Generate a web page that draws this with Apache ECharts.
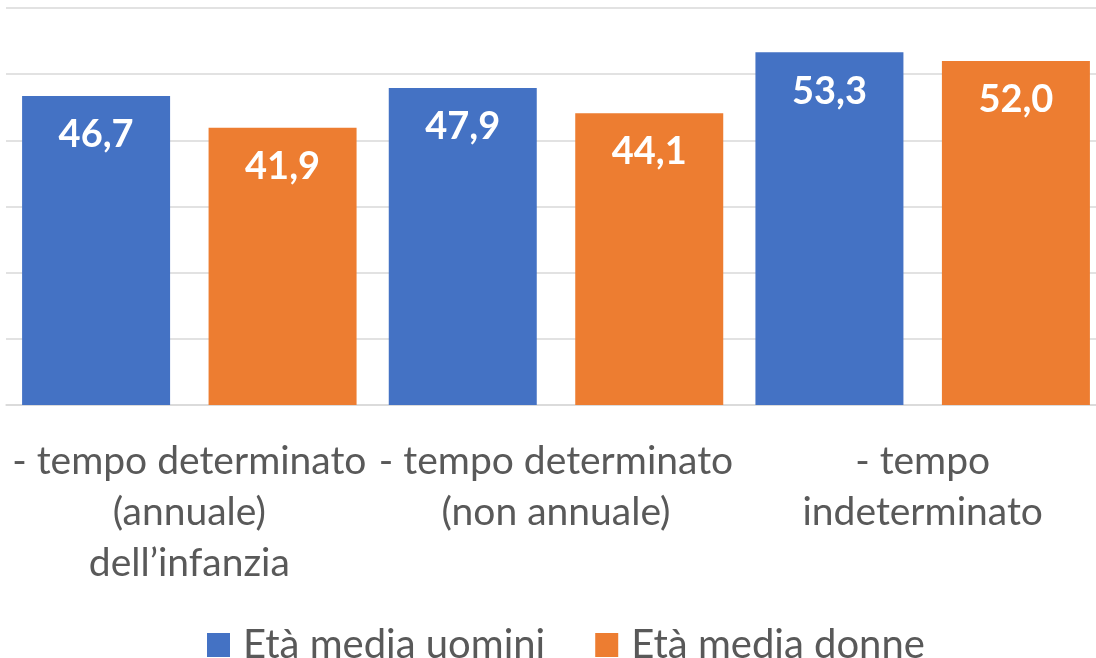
<!DOCTYPE html>
<html>
<head>
<meta charset="utf-8">
<script src="https://cdn.jsdelivr.net/npm/echarts@6/dist/echarts.min.js"></script>
<style>
html,body{margin:0;padding:0;background:#fff;}
#main{width:1096px;height:658px;}
</style>
</head>
<body>
<div id="main"></div>
<script>
var categories = ['- tempo determinato\n(annuale)\ndell\u2019infanzia', '- tempo determinato\n(non annuale)', '- tempo\nindeterminato'];
var uomini = [46.7, 47.9, 53.3];
var donne = [41.9, 44.1, 52.0];
var seriesNames = ['Età media uomini', 'Età media donne'];

var chart = echarts.init(document.getElementById('main'));

var fontFam = 'Lato';

function valueLabel(p) {
	return p.value.toFixed(1).replace('.', ',');
}

var barLabel = {
	show: true,
	position: 'insideTop',
	distance: 20,
	fontSize: 38,
	fontWeight: 'bold',
	color: '#fff',
	fontFamily: fontFam,
	formatter: valueLabel
};

var option = {
	animation: false,
	textStyle: { fontFamily: fontFam },
	legend: {
		data: seriesNames,
		left: 202,
		top: 620,
		icon: 'rect',
		itemWidth: 23,
		itemHeight: 24,
		itemGap: 50,
		textStyle: { fontSize: 40, color: '#595959', fontFamily: fontFam, padding: [0, 0, 0, 8] }
	},
	grid: {
		left: 6,
		width: 1100,
		top: 8,
		bottom: 253,
		outerBoundsMode: 'none'
	},
	xAxis: {
		type: 'category',
		data: categories,
		axisTick: { show: false },
		axisLine: { lineStyle: { color: '#d9d9d9', width: 1.5 } },
		axisLabel: {
			interval: 0,
			margin: 31,
			fontSize: 39,
			lineHeight: 51,
			color: '#595959',
			fontFamily: fontFam
		}
	},
	yAxis: {
		type: 'value',
		min: 0,
		max: 60,
		interval: 10,
		axisLabel: { show: false },
		axisLine: { show: false },
		axisTick: { show: false },
		splitLine: { lineStyle: { color: '#d9d9d9', width: 1.5 } }
	},
	series: [
		{
			name: seriesNames[0],
			type: 'bar',
			data: uomini,
			barWidth: 148,
			barGap: '26%',
			itemStyle: { color: '#4472C4' },
			label: barLabel
		},
		{
			name: seriesNames[1],
			type: 'bar',
			data: donne,
			barWidth: 148,
			barGap: '26%',
			itemStyle: { color: '#ED7D31' },
			label: barLabel
		}
	]
};

chart.setOption(option);
</script>
</body>
</html>
